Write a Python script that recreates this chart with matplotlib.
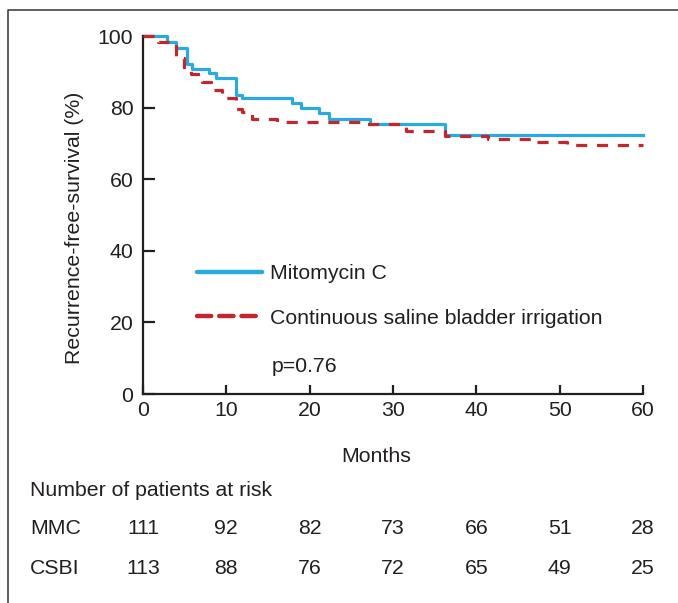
import matplotlib
matplotlib.use("Agg")
import matplotlib.pyplot as plt
import matplotlib.transforms as mtrans
from matplotlib.lines import Line2D

plt.rcParams['font.family'] = ['Liberation Sans', 'DejaVu Sans']
plt.rcParams['lines.scale_dashes'] = False

# ---- data ----
mmc_t = [0, 2.85, 3.9, 5.3, 5.9, 7.9, 8.7, 11.1, 11.9, 17.9, 19.0, 21.1, 22.3, 27.2, 36.2, 60]
mmc_s = [100, 98.4, 96.6, 92.1, 90.7, 89.8, 88.2, 83.5, 82.6, 81.4, 80.0, 78.4, 76.8, 75.3, 72.3, 72.3]

csbi_t = [0, 1.8, 3.9, 4.9, 5.7, 7.1, 8.1, 9.5, 11.1, 11.9, 13.1, 16.1, 26.7, 31.5, 36.2, 41.4, 46.5, 50.9, 60]
csbi_s = [100, 98.4, 93.8, 90.7, 89.4, 87.1, 84.9, 82.6, 79.6, 78.9, 76.8, 76.1, 75.3, 73.5, 72.0, 71.3, 70.5, 69.5, 69.5]

risk_months = [0, 10, 20, 30, 40, 50, 60]
risk_mmc = [111, 92, 82, 73, 66, 51, 28]
risk_csbi = [113, 88, 76, 72, 65, 49, 25]

x_ticks = [0, 10, 20, 30, 40, 50, 60]
y_ticks = [0, 20, 40, 60, 80, 100]

labels = ["Mitomycin C", "Continuous saline bladder irrigation"]
p_text = "p=0.76"

BLUE = "#29abe2"
RED = "#c1272d"
TXT = "#231f20"
W, H = 678, 603
FS = 15.3

fig = plt.figure(figsize=(W / 100, H / 100), dpi=100)
ax = fig.add_axes([143 / W, 1 - 394 / H, 500 / W, 358 / H])

ax.step(csbi_t, csbi_s, where='post', color=RED, lw=2.3, dashes=(8, 7), clip_on=False, zorder=3)
ax.step(mmc_t, mmc_s, where='post', color=BLUE, lw=2.3, clip_on=False, zorder=2)

ax.set_xlim(0, 60)
ax.set_ylim(0, 100)
ax.set_xticks(x_ticks)
ax.set_yticks(y_ticks)
for s in ['top', 'right']:
    ax.spines[s].set_visible(False)
for s in ['left', 'bottom']:
    ax.spines[s].set_linewidth(1.6)
    ax.spines[s].set_color(TXT)
ax.tick_params(axis='y', direction='in', length=8.6, width=1.6, pad=7, labelsize=FS, colors=TXT)
ax.tick_params(axis='x', direction='in', length=6.5, width=1.6, pad=5, labelsize=FS, colors=TXT)

# legend
handles = [Line2D([], [], color=BLUE, lw=3.2, solid_capstyle='round'),
           Line2D([], [], color=RED, lw=3.2, dashes=(10.3, 5.7), dash_capstyle='round')]
leg = fig.legend(handles, labels, loc='center left',
                 bbox_to_anchor=(197 / W, 1 - 296 / H), frameon=False,
                 fontsize=FS, handlelength=3.05, handletextpad=0.38,
                 labelspacing=1.2, borderpad=0, borderaxespad=0)
for t in leg.get_texts():
    t.set_color(TXT)

fig.text(272 / W, 1 - 367 / H, p_text, fontsize=FS, ha='left', va='center', color=TXT)

fig.text(75 / W, 1 - 228 / H, "Recurrence-free-survival (%)", rotation=90,
         fontsize=FS, ha='center', va='center', color=TXT)
fig.text(376 / W, 1 - 456 / H, "Months", fontsize=FS, ha='center', va='center', color=TXT)

# risk table
fig.text(30 / W, 1 - 491 / H, "Number of patients at risk", fontsize=FS, ha='left', va='center', color=TXT)
fig.text(30 / W, 1 - 529 / H, "MMC", fontsize=FS, ha='left', va='center', color=TXT)
fig.text(30 / W, 1 - 569 / H, "CSBI", fontsize=FS, ha='left', va='center', color=TXT)
tr = mtrans.blended_transform_factory(ax.transData, fig.transFigure)
for m, a, b in zip(risk_months, risk_mmc, risk_csbi):
    ax.text(m, 1 - 529 / H, str(a), transform=tr, fontsize=FS, ha='center', va='center', color=TXT, clip_on=False)
    ax.text(m, 1 - 569 / H, str(b), transform=tr, fontsize=FS, ha='center', va='center', color=TXT, clip_on=False)

# frame (top + left border)
fig.add_artist(Line2D([8 / W, 8 / W, 1], [0, 1 - 10 / H, 1 - 10 / H], transform=fig.transFigure,
                      color='#333333', lw=1.1))

fig.savefig("out.png", dpi=100)
